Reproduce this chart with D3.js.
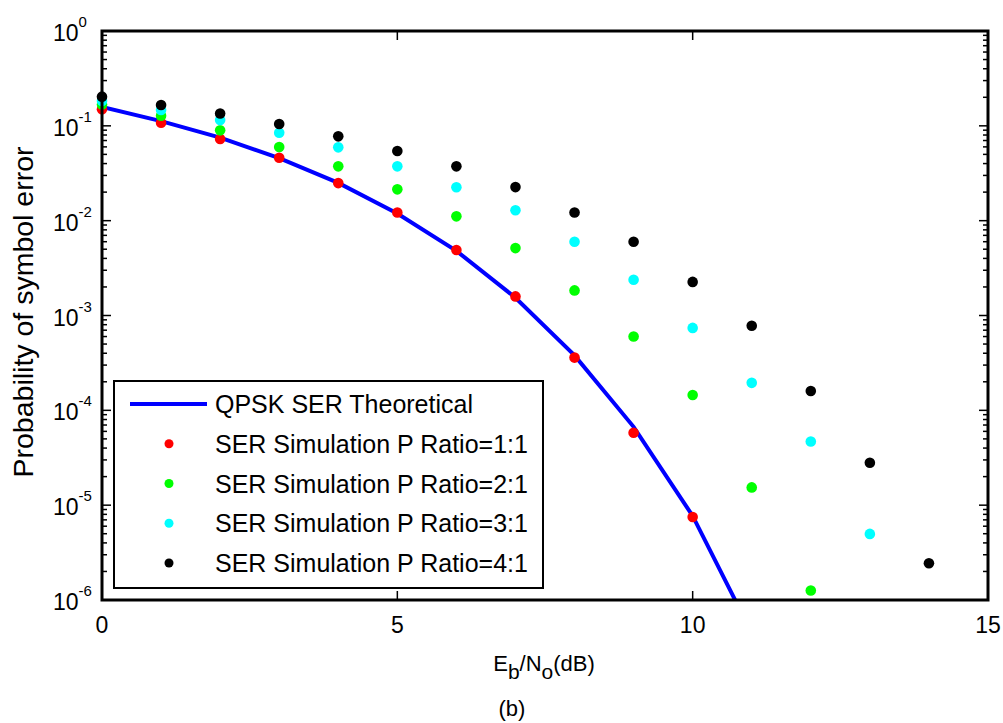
<!DOCTYPE html>
<html>
<head>
<meta charset="utf-8">
<script src="https://cdn.jsdelivr.net/npm/d3@7"></script>
<style>
    body { margin: 0; background: #fff; }
    svg { font-family: "Liberation Sans", Arial, sans-serif; }
</style>
</head>
<body>
<svg id="chart" width="1003" height="723"></svg>
<script>
// Eb/No (dB) points
const theoryX = [0, 1, 2, 3, 4, 5, 6, 7, 8, 9, 10, 11];
const theorySER = [0.158, 0.112, 0.075, 0.0457, 0.025, 0.0119, 0.0048, 0.00154, 3.8e-4, 6.7e-5, 7.7e-6, 4.5e-7];

const ratio1 = [0.150, 0.108, 0.0726, 0.0461, 0.0249, 0.0122, 0.0049, 0.00159, 3.6e-4, 5.8e-5, 7.5e-6];
const ratio2 = [0.168, 0.128, 0.0896, 0.0598, 0.0374, 0.0214, 0.0111, 0.00514, 0.00184, 6.0e-4, 1.45e-4, 1.54e-5, 1.26e-6];
const ratio3 = [0.183, 0.147, 0.115, 0.0846, 0.0593, 0.0374, 0.0225, 0.0129, 0.0060, 0.00238, 7.4e-4, 1.95e-4, 4.7e-5, 4.98e-6];
const ratio4 = [0.203, 0.166, 0.135, 0.1045, 0.0775, 0.0542, 0.0374, 0.0226, 0.0122, 0.0060, 0.00226, 7.8e-4, 1.6e-4, 2.8e-5, 2.44e-6];

const xTicks = [0, 5, 10, 15];
const yExponents = [0, -1, -2, -3, -4, -5, -6];

const seriesNames = ['QPSK SER Theoretical', 'SER Simulation P Ratio=1:1', 'SER Simulation P Ratio=2:1',
    'SER Simulation P Ratio=3:1', 'SER Simulation P Ratio=4:1'];
const seriesColors = ['#0000ff', '#ff0000', '#00ff00', '#00ffff', '#000000'];

const pLeft = 102, pTop = 31, pRight = 988, pBottom = 600;
const svg = d3.select('#chart');

const x = d3.scaleLinear().domain([0, 15]).range([pLeft, pRight]);
const y = d3.scaleLog().domain([1e-6, 1]).range([pBottom, pTop]);

svg.append('defs').append('clipPath').attr('id', 'clip')
    .append('rect').attr('x', pLeft).attr('y', pTop).attr('width', pRight - pLeft).attr('height', pBottom - pTop);

// theoretical curve
const line = d3.line().x((d, i) => x(theoryX[i])).y(d => y(d));
svg.append('path')
    .datum(theorySER)
    .attr('clip-path', 'url(#clip)')
    .attr('d', line)
    .attr('fill', 'none')
    .attr('stroke', seriesColors[0])
    .attr('stroke-width', 4);

// simulation dots
[ratio1, ratio2, ratio3, ratio4].forEach((arr, k) => {
    svg.append('g').selectAll('circle')
        .data(arr)
        .enter().append('circle')
        .attr('cx', (d, i) => x(i))
        .attr('cy', d => y(d))
        .attr('r', 5.3)
        .style('fill', seriesColors[k + 1]);
});

// ticks (inside, on all four sides)
const tickG = svg.append('g').attr('stroke', '#000').attr('stroke-width', 1.5);
xTicks.forEach(t => {
    tickG.append('line').attr('x1', x(t)).attr('x2', x(t)).attr('y1', pBottom).attr('y2', pBottom - 9);
    tickG.append('line').attr('x1', x(t)).attr('x2', x(t)).attr('y1', pTop).attr('y2', pTop + 9);
});
yExponents.forEach(e => {
    const base = Math.pow(10, e);
    tickG.append('line').attr('x1', pLeft).attr('x2', pLeft + 9).attr('y1', y(base)).attr('y2', y(base));
    tickG.append('line').attr('x1', pRight).attr('x2', pRight - 9).attr('y1', y(base)).attr('y2', y(base));
    if (e < 0) {
        for (let m = 2; m <= 9; m++) {
            const v = base * m;
            tickG.append('line').attr('x1', pLeft).attr('x2', pLeft + 5).attr('y1', y(v)).attr('y2', y(v));
            tickG.append('line').attr('x1', pRight).attr('x2', pRight - 5).attr('y1', y(v)).attr('y2', y(v));
        }
    }
});

// frame
svg.append('rect')
    .attr('x', pLeft).attr('y', pTop)
    .attr('width', pRight - pLeft).attr('height', pBottom - pTop)
    .attr('fill', 'none').attr('stroke', '#000').attr('stroke-width', 3);

// x tick labels
svg.append('g').selectAll('text')
    .data(xTicks)
    .enter().append('text')
    .attr('x', d => x(d))
    .attr('y', 633)
    .attr('text-anchor', 'middle')
    .style('font-size', '23px')
    .text(d => d);

// y tick labels 10^e
const yl = svg.append('g').selectAll('text')
    .data(yExponents)
    .enter().append('text')
    .attr('x', 53)
    .attr('y', d => y(Math.pow(10, d)) + 10)
    .style('font-size', '23px');
yl.append('tspan').text('10');
yl.append('tspan').attr('dy', -14).style('font-size', '15px').text(d => d);

// axis labels
const xl = svg.append('text')
    .attr('x', 544).attr('y', 671)
    .attr('text-anchor', 'middle')
    .style('font-size', '22px');
xl.append('tspan').text('E');
xl.append('tspan').attr('dy', 8).style('font-size', '21px').text('b');
xl.append('tspan').attr('dy', -8).text('/N');
xl.append('tspan').attr('dy', 8).style('font-size', '21px').text('o');
xl.append('tspan').attr('dy', -8).text('(dB)');

svg.append('text')
    .attr('x', 512).attr('y', 716)
    .attr('text-anchor', 'middle')
    .style('font-size', '22px')
    .text('(b)');

svg.append('text')
    .attr('transform', 'translate(33,312) rotate(-90)')
    .attr('text-anchor', 'middle')
    .style('font-size', '28.5px')
    .text('Probability of symbol error');

// legend
const legend = svg.append('g');
legend.append('rect')
    .attr('x', 114).attr('y', 381)
    .attr('width', 429).attr('height', 207)
    .attr('fill', '#fff').attr('stroke', '#000').attr('stroke-width', 2);
const rowY = d3.scaleLinear().domain([0, 4]).range([404, 563]);
seriesNames.forEach((name, i) => {
    if (i === 0) {
        legend.append('line')
            .attr('x1', 130).attr('x2', 207)
            .attr('y1', rowY(i)).attr('y2', rowY(i))
            .attr('stroke', seriesColors[i]).attr('stroke-width', 4);
    } else {
        legend.append('circle')
            .attr('cx', 169).attr('cy', rowY(i))
            .attr('r', 4.5)
            .style('fill', seriesColors[i]);
    }
    legend.append('text')
        .attr('x', 215).attr('y', rowY(i) + 9)
        .style('font-size', '25px')
        .text(name);
});
</script>
</body>
</html>
